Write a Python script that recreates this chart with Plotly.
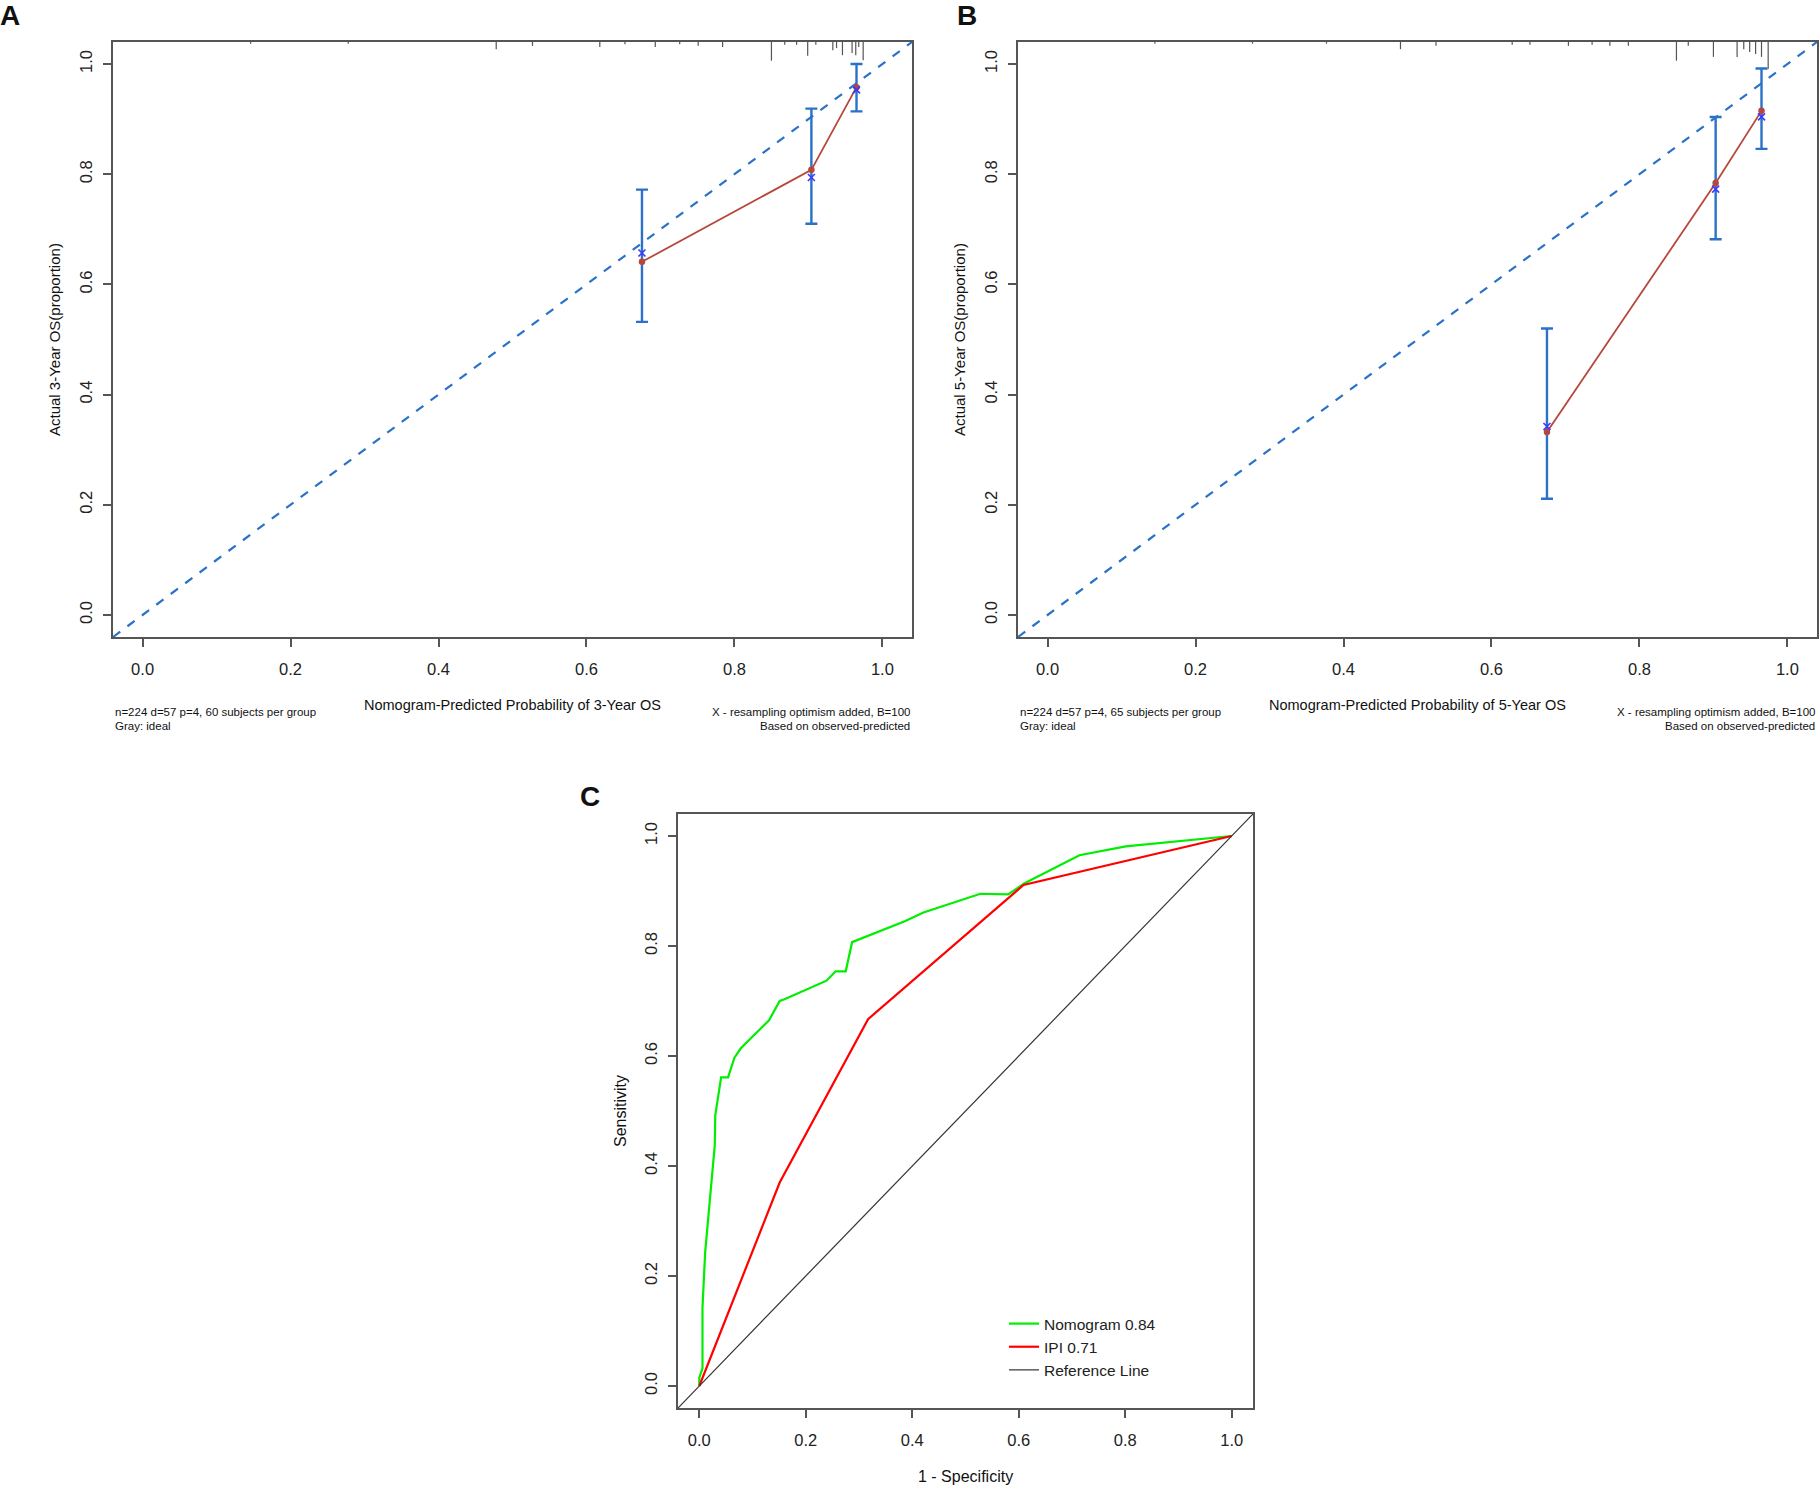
import plotly.graph_objects as go

W, H = 1819, 1488

# ---------------- data ----------------
ticks = [0.0, 0.2, 0.4, 0.6, 0.8, 1.0]
axis_range = [-0.04, 1.04]

# Panel A: 3-year calibration
a_pred = [0.675, 0.904, 0.965]
a_obs = [0.641, 0.808, 0.958]
a_corr = [0.657, 0.794, 0.953]
a_lo = [0.532, 0.710, 0.914]
a_hi = [0.772, 0.919, 1.000]
a_rug_x = [0.146, 0.278, 0.478, 0.527, 0.618, 0.652, 0.693, 0.726, 0.751, 0.784, 0.850,
           0.868, 0.884, 0.899, 0.910, 0.933, 0.938, 0.946, 0.959, 0.964, 0.968, 0.974]
a_rug_h = [0.003, 0.003, 0.013, 0.007, 0.009, 0.004, 0.009, 0.004, 0.007, 0.009, 0.034,
           0.005, 0.005, 0.025, 0.005, 0.015, 0.011, 0.024, 0.020, 0.024, 0.009, 0.033]

# Panel B: 5-year calibration
b_pred = [0.675, 0.903, 0.965]
b_obs = [0.332, 0.784, 0.915]
b_corr = [0.342, 0.773, 0.904]
b_lo = [0.211, 0.682, 0.846]
b_hi = [0.520, 0.904, 0.992]
b_rug_x = [0.145, 0.277, 0.377, 0.477, 0.525, 0.628, 0.652, 0.704, 0.736, 0.760, 0.785,
           0.850, 0.866, 0.900, 0.932, 0.941, 0.949, 0.957, 0.965, 0.974]
b_rug_h = [0.003, 0.003, 0.003, 0.013, 0.007, 0.005, 0.005, 0.007, 0.005, 0.007, 0.007,
           0.034, 0.007, 0.027, 0.027, 0.013, 0.018, 0.022, 0.027, 0.049]

# Panel C: ROC curves
nomo_fpr = [0.0, 0.0, 0.006, 0.006, 0.011, 0.023, 0.029, 0.030, 0.041, 0.054, 0.066, 0.078,
            0.131, 0.151, 0.160, 0.239, 0.256, 0.275, 0.287, 0.386, 0.421, 0.528, 0.580,
            0.611, 0.714, 0.801, 1.0]
nomo_tpr = [0.0, 0.015, 0.032, 0.142, 0.243, 0.378, 0.437, 0.492, 0.561, 0.561, 0.597, 0.614,
            0.665, 0.700, 0.703, 0.737, 0.754, 0.754, 0.807, 0.845, 0.861, 0.895, 0.894,
            0.914, 0.965, 0.981, 1.0]
ipi_fpr = [0.0, 0.151, 0.317, 0.609, 1.0]
ipi_tpr = [0.0, 0.370, 0.667, 0.911, 1.0]
legend_names = ["Nomogram 0.84", "IPI 0.71", "Reference Line"]

# ---------------- styles ----------------
BLUE = "#2a72c8"
RED = "#b8473b"
XBLUE = "#3a3aff"
FONT = "Liberation Sans, Arial, sans-serif"
NARROW = "Liberation Sans Narrow, Arial Narrow, Liberation Sans, sans-serif"


def px(x, y):
    return x / W, 1 - y / H


fig = go.Figure()


def calib(xa, ya, pred, obs, corr, lo, hi, rug_x, rug_h):
    top = axis_range[1]
    rx, ry = [], []
    for x, h in zip(rug_x, rug_h):
        rx += [x, x, None]
        ry += [top, top - h, None]
    fig.add_trace(go.Scatter(x=rx, y=ry, mode="lines", line=dict(color="#555", width=1.2),
                             xaxis=xa, yaxis=ya, showlegend=False, hoverinfo="skip"))
    fig.add_trace(go.Scatter(x=axis_range, y=axis_range, mode="lines",
                             line=dict(color=BLUE, width=2.2, dash="dash"),
                             xaxis=xa, yaxis=ya, showlegend=False))
    fig.add_trace(go.Scatter(x=pred, y=corr, mode="markers",
                             marker=dict(size=1, color="rgba(0,0,0,0)"),
                             error_y=dict(type="data", symmetric=False,
                                          array=[h - c for h, c in zip(hi, corr)],
                                          arrayminus=[c - l for c, l in zip(corr, lo)],
                                          color=BLUE, thickness=2.4, width=6),
                             xaxis=xa, yaxis=ya, showlegend=False))
    fig.add_trace(go.Scatter(x=pred, y=obs, mode="lines+markers",
                             line=dict(color=RED, width=1.8),
                             marker=dict(size=6.5, color=RED),
                             xaxis=xa, yaxis=ya, showlegend=False))
    fig.add_trace(go.Scatter(x=pred, y=corr, mode="markers",
                             marker=dict(symbol="x-thin", size=7,
                                         line=dict(color=XBLUE, width=1.6)),
                             xaxis=xa, yaxis=ya, showlegend=False))


calib("x", "y", a_pred, a_obs, a_corr, a_lo, a_hi, a_rug_x, a_rug_h)
calib("x2", "y2", b_pred, b_obs, b_corr, b_lo, b_hi, b_rug_x, b_rug_h)

# ROC panel
fig.add_trace(go.Scatter(x=nomo_fpr, y=nomo_tpr, mode="lines", name=legend_names[0],
                         line=dict(color="#00ee00", width=2.2), xaxis="x3", yaxis="y3"))
fig.add_trace(go.Scatter(x=ipi_fpr, y=ipi_tpr, mode="lines", name=legend_names[1],
                         line=dict(color="#ff0000", width=2.2), xaxis="x3", yaxis="y3"))
fig.add_trace(go.Scatter(x=axis_range, y=axis_range, mode="lines", name=legend_names[2],
                         line=dict(color="#333333", width=1.2), xaxis="x3", yaxis="y3"))


def ax(domain, anchor, yaxis=False):
    d = dict(domain=domain, anchor=anchor, range=axis_range, showline=True, mirror=True,
             linecolor="#555", linewidth=1.5, ticks="outside", ticklen=8, tickwidth=1.5,
             tickcolor="#555", tickvals=ticks, tickformat=".1f", showgrid=False,
             zeroline=False, tickfont=dict(family=FONT, size=16.5, color="#222"),
             ticklabelstandoff=8)
    if yaxis:
        d["tickangle"] = -90
        d["ticklabelstandoff"] = 5
    return d


ab_y = [1 - 637 / H, 1 - 42 / H]
c_y = [1 - 1408 / H, 1 - 814 / H]
fig.update_layout(
    width=W, height=H, margin=dict(l=0, r=0, t=0, b=0),
    paper_bgcolor="white", plot_bgcolor="white",
    font=dict(family=FONT, color="#222"),
    xaxis=ax([113 / W, 912 / W], "y"),
    yaxis=ax(ab_y, "x", True),
    xaxis2=ax([1018 / W, 1817 / W], "y2"),
    yaxis2=ax(ab_y, "x2", True),
    xaxis3=ax([678 / W, 1253 / W], "y3"),
    yaxis3=ax(c_y, "x3", True),
    showlegend=True,
    legend=dict(x=1004 / W, y=1 - 1307 / H, xanchor="left", yanchor="top",
                bgcolor="rgba(0,0,0,0)", borderwidth=0,
                font=dict(family=FONT, size=15.5, color="#222"), tracegroupgap=0),
)

ann = []


def text(x, y, s, size, family=FONT, angle=0, xanchor="center", bold=False):
    px_x, px_y = px(x, y)
    ann.append(dict(x=px_x, y=px_y, xref="paper", yref="paper", text=f"<b>{s}</b>" if bold else s,
                    showarrow=False, xanchor=xanchor, yanchor="middle", textangle=angle,
                    font=dict(family=family, size=size, color="#111")))


# panel letters
text(10, 15, "A", 28, bold=True)
text(967, 15, "B", 28, bold=True)
text(590, 796, "C", 28, bold=True)

for left, yr, grp in [(113, 3, 60), (1018, 5, 65)]:
    right = left + 799
    text((left + right) / 2, 705, f"Nomogram-Predicted Probability of {yr}-Year OS", 14.5, NARROW)
    text(left, 712, f"n=224 d=57 p=4, {grp} subjects per group", 11.5, NARROW, xanchor="left")
    text(left, 726, "Gray: ideal", 11.5, NARROW, xanchor="left")
    text(right, 712, "X - resampling optimism added, B=100", 11.5, NARROW, xanchor="right")
    text(right, 726, "Based on observed-predicted", 11.5, NARROW, xanchor="right")
    text(left - 59, 340, f"Actual {yr}-Year OS(proportion)", 15, angle=-90)

text(620, 1111, "Sensitivity", 16, angle=-90)
text(965, 1476, "1 - Specificity", 16)

fig.update_layout(annotations=ann)
fig.write_html("out.html", config={"displayModeBar": False},
               post_script="document.body.style.margin='0';document.body.style.overflow='hidden';")
